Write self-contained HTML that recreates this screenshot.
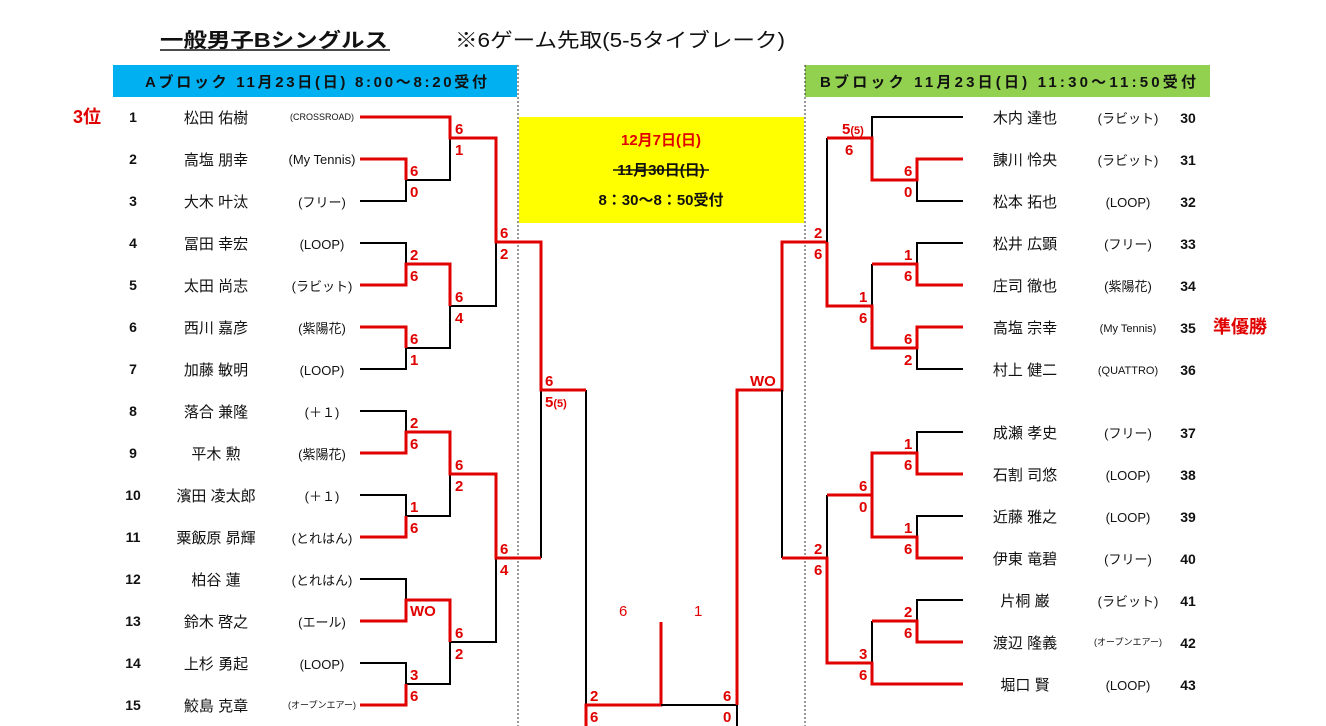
<!DOCTYPE html>
<html><head><meta charset="utf-8"><style>
html,body{margin:0;padding:0;background:#fff;}
svg{display:block;font-family:"Liberation Sans","Noto Sans CJK JP",sans-serif;}
.s{fill:#e00000;font-weight:bold;font-size:15px;}
.n{font-size:15px;fill:#111;}
.c{font-size:13px;fill:#111;}
.num{font-size:14px;font-weight:bold;fill:#111;}
.r{fill:none;stroke:#e00000;stroke-width:3;}
.b{fill:none;stroke:#000;stroke-width:2;}
</style></head><body>
<svg width="1326" height="726" viewBox="0 0 1326 726">
<text x="160" y="47" font-size="20" font-weight="bold" fill="#111" textLength="228" lengthAdjust="spacingAndGlyphs">一般男子Bシングルス</text>
<line x1="160" y1="50" x2="390" y2="50" stroke="#111" stroke-width="1.5"/>
<text x="455" y="47" font-size="20" fill="#111" textLength="330" lengthAdjust="spacingAndGlyphs">※6ゲーム先取(5-5タイブレーク)</text>
<rect x="113" y="65" width="404" height="32" fill="#00b0f0"/>
<text x="145" y="87" font-size="15" font-weight="bold" fill="#111" textLength="342" lengthAdjust="spacing">Aブロック  11月23日(日)   8:00～8:20受付</text>
<rect x="805" y="65" width="405" height="32" fill="#92d050"/>
<text x="820" y="87" font-size="15" font-weight="bold" fill="#111" textLength="376" lengthAdjust="spacing">Bブロック   11月23日(日)   11:30～11:50受付</text>
<line x1="518" y1="65" x2="518" y2="726" stroke="#333" stroke-dasharray="2,2" stroke-width="1"/>
<line x1="805" y1="65" x2="805" y2="726" stroke="#333" stroke-dasharray="2,2" stroke-width="1"/>
<rect x="519" y="117" width="285" height="106" fill="#ffff00"/>
<text x="661" y="145" text-anchor="middle" font-size="15" font-weight="bold" fill="#e00000">12月7日(日)</text>
<text x="661" y="175" text-anchor="middle" font-size="15" font-weight="bold" fill="#111">11月30日(日)</text>
<line x1="613" y1="170" x2="709" y2="170" stroke="#111" stroke-width="1.5"/>
<text x="661" y="205" text-anchor="middle" font-size="15" font-weight="bold" fill="#111">8：30～8：50受付</text>

<text x="73" y="123" font-size="18" font-weight="bold" fill="#e00000">3位</text>
<text x="1213" y="333" font-size="18" font-weight="bold" fill="#e00000">準優勝</text>

<!-- Left players -->
<g text-anchor="middle">
<text class="num" x="133" y="122">1</text><text class="n" x="216" y="123">松田 佑樹</text><text class="c" x="322" y="120" style="font-size:9px">(CROSSROAD)</text>
<text class="num" x="133" y="164">2</text><text class="n" x="216" y="165">高塩 朋幸</text><text class="c" x="322" y="164">(My Tennis)</text>
<text class="num" x="133" y="206">3</text><text class="n" x="216" y="207">大木 叶汰</text><text class="c" x="322" y="207">(フリー)</text>
<text class="num" x="133" y="248">4</text><text class="n" x="216" y="249">冨田 幸宏</text><text class="c" x="322" y="249">(LOOP)</text>
<text class="num" x="133" y="290">5</text><text class="n" x="216" y="291">太田 尚志</text><text class="c" x="322" y="291">(ラビット)</text>
<text class="num" x="133" y="332">6</text><text class="n" x="216" y="333">西川 嘉彦</text><text class="c" x="322" y="333">(紫陽花)</text>
<text class="num" x="133" y="374">7</text><text class="n" x="216" y="375">加藤 敏明</text><text class="c" x="322" y="375">(LOOP)</text>
<text class="num" x="133" y="416">8</text><text class="n" x="216" y="417">落合 兼隆</text><text class="c" x="322" y="417">(＋１)</text>
<text class="num" x="133" y="458">9</text><text class="n" x="216" y="459">平木 勲</text><text class="c" x="322" y="459">(紫陽花)</text>
<text class="num" x="133" y="500">10</text><text class="n" x="216" y="501">濱田 凌太郎</text><text class="c" x="322" y="501">(＋１)</text>
<text class="num" x="133" y="542">11</text><text class="n" x="216" y="543">粟飯原 昴輝</text><text class="c" x="322" y="543">(とれはん)</text>
<text class="num" x="133" y="584">12</text><text class="n" x="216" y="585">柏谷 蓮</text><text class="c" x="322" y="585">(とれはん)</text>
<text class="num" x="133" y="626">13</text><text class="n" x="216" y="627">鈴木 啓之</text><text class="c" x="322" y="627">(エール)</text>
<text class="num" x="133" y="668">14</text><text class="n" x="216" y="669">上杉 勇起</text><text class="c" x="322" y="669">(LOOP)</text>
<text class="num" x="133" y="710">15</text><text class="n" x="216" y="711">鮫島 克章</text><text class="c" x="322" y="708" style="font-size:9px">(オープンエアー)</text>
</g>
<!-- Right players -->
<g text-anchor="middle">
<text class="n" x="1025" y="123">木内 達也</text><text class="c" x="1128" y="123">(ラビット)</text><text class="num" x="1188" y="123">30</text>
<text class="n" x="1025" y="165">諌川 怜央</text><text class="c" x="1128" y="165">(ラビット)</text><text class="num" x="1188" y="165">31</text>
<text class="n" x="1025" y="207">松本 拓也</text><text class="c" x="1128" y="207">(LOOP)</text><text class="num" x="1188" y="207">32</text>
<text class="n" x="1025" y="249">松井 広顕</text><text class="c" x="1128" y="249">(フリー)</text><text class="num" x="1188" y="249">33</text>
<text class="n" x="1025" y="291">庄司 徹也</text><text class="c" x="1128" y="291">(紫陽花)</text><text class="num" x="1188" y="291">34</text>
<text class="n" x="1025" y="333">高塩 宗幸</text><text class="c" x="1128" y="332" style="font-size:11px">(My Tennis)</text><text class="num" x="1188" y="333">35</text>
<text class="n" x="1025" y="375">村上 健二</text><text class="c" x="1128" y="374" style="font-size:11px">(QUATTRO)</text><text class="num" x="1188" y="375">36</text>
<text class="n" x="1025" y="438">成瀬 孝史</text><text class="c" x="1128" y="438">(フリー)</text><text class="num" x="1188" y="438">37</text>
<text class="n" x="1025" y="480">石割 司悠</text><text class="c" x="1128" y="480">(LOOP)</text><text class="num" x="1188" y="480">38</text>
<text class="n" x="1025" y="522">近藤 雅之</text><text class="c" x="1128" y="522">(LOOP)</text><text class="num" x="1188" y="522">39</text>
<text class="n" x="1025" y="564">伊東 竜碧</text><text class="c" x="1128" y="564">(フリー)</text><text class="num" x="1188" y="564">40</text>
<text class="n" x="1025" y="606">片桐 巌</text><text class="c" x="1128" y="606">(ラビット)</text><text class="num" x="1188" y="606">41</text>
<text class="n" x="1025" y="648">渡辺 隆義</text><text class="c" x="1128" y="645" style="font-size:9px">(オープンエアー)</text><text class="num" x="1188" y="648">42</text>
<text class="n" x="1025" y="690">堀口 賢</text><text class="c" x="1128" y="690">(LOOP)</text><text class="num" x="1188" y="690">43</text>
</g>

<!-- Left bracket lines -->
<polyline class="b" points="360,201 406,201 406,180"/>
<polyline class="b" points="406,180 450,180 450,138"/>
<polyline class="b" points="360,243 406,243 406,264"/>
<polyline class="b" points="360,369 406,369 406,348"/>
<polyline class="b" points="406,348 450,348 450,306 496,306 496,242"/>
<polyline class="b" points="360,411 406,411 406,432"/>
<polyline class="b" points="360,495 406,495 406,516 450,516 450,474"/>
<polyline class="b" points="360,579 406,579 406,600"/>
<polyline class="b" points="360,663 406,663 406,684 450,684 450,642 496,642 496,558"/>
<polyline class="b" points="541,558 541,390"/>
<polyline class="b" points="586,390 586,705"/>
<polyline class="r" points="360,117 450,117 450,138 496,138 496,242 541,242 541,390 586,390"/>
<polyline class="r" points="360,159 406,159 406,180"/>
<polyline class="r" points="360,285 406,285 406,264 450,264 450,306"/>
<polyline class="r" points="360,327 406,327 406,348"/>
<polyline class="r" points="360,453 406,453 406,432 450,432 450,474 496,474 496,558 541,558"/>
<polyline class="r" points="360,537 406,537 406,516"/>
<polyline class="r" points="360,621 406,621 406,600 450,600 450,642"/>
<polyline class="r" points="360,705 406,705 406,684"/>
<!-- Final -->
<polyline class="r" points="586,726 586,705 661,705 661,622"/>
<polyline class="b" points="661,705 737,705 737,726"/>
<polyline class="r" points="737,705 737,390 782,390 782,242 827,242"/>

<!-- Right bracket lines -->
<polyline class="b" points="963,117 872,117 872,138"/>
<polyline class="b" points="963,201 917,201 917,180"/>
<polyline class="b" points="827,138 827,242"/>
<polyline class="b" points="963,243 917,243 917,264"/>
<polyline class="b" points="872,264 872,306"/>
<polyline class="b" points="963,369 917,369 917,348"/>
<polyline class="b" points="782,390 782,558"/>
<polyline class="b" points="963,432 917,432 917,453"/>
<polyline class="b" points="872,495 872,537"/>
<polyline class="b" points="963,516 917,516 917,537"/>
<polyline class="b" points="827,495 827,558"/>
<polyline class="b" points="963,600 917,600 917,621"/>
<polyline class="b" points="872,621 872,663"/>
<polyline class="r" points="827,138 872,138 872,180 917,180 917,159 963,159"/>
<polyline class="r" points="827,242 827,306 872,306 872,348 917,348 917,327 963,327"/>
<polyline class="r" points="872,264 917,264 917,285 963,285"/>
<polyline class="r" points="827,495 872,495 872,453 917,453 917,474 963,474"/>
<polyline class="r" points="872,495 872,537 917,537 917,558 963,558"/>
<polyline class="r" points="782,558 827,558 827,663 872,663 872,684 963,684"/>
<polyline class="r" points="872,621 917,621 917,642 963,642"/>

<!-- Left scores -->
<g class="s">
<text x="455" y="134">6</text><text x="455" y="155">1</text>
<text x="410" y="176">6</text><text x="410" y="197">0</text>
<text x="410" y="260">2</text><text x="410" y="281">6</text>
<text x="455" y="302">6</text><text x="455" y="323">4</text>
<text x="410" y="344">6</text><text x="410" y="365">1</text>
<text x="500" y="238">6</text><text x="500" y="259">2</text>
<text x="545" y="386">6</text><text x="545" y="407">5<tspan font-size="11">(5)</tspan></text>
<text x="410" y="428">2</text><text x="410" y="449">6</text>
<text x="455" y="470">6</text><text x="455" y="491">2</text>
<text x="410" y="512">1</text><text x="410" y="533">6</text>
<text x="500" y="554">6</text><text x="500" y="575">4</text>
<text x="410" y="616">WO</text>
<text x="455" y="638">6</text><text x="455" y="659">2</text>
<text x="410" y="680">3</text><text x="410" y="701">6</text>
<text x="590" y="701">2</text><text x="590" y="722">6</text>
<text x="723" y="701">6</text><text x="723" y="722">0</text>
<text x="619" y="616" font-weight="normal">6</text><text x="694" y="616" font-weight="normal">1</text>
<text x="750" y="386">WO</text>
<!-- Right scores -->
<text x="842" y="134">5<tspan font-size="11">(5)</tspan></text><text x="845" y="155">6</text>
<text x="904" y="176">6</text><text x="904" y="197">0</text>
<text x="814" y="238">2</text><text x="814" y="259">6</text>
<text x="904" y="260">1</text><text x="904" y="281">6</text>
<text x="859" y="302">1</text><text x="859" y="323">6</text>
<text x="904" y="344">6</text><text x="904" y="365">2</text>
<text x="904" y="449">1</text><text x="904" y="470">6</text>
<text x="859" y="491">6</text><text x="859" y="512">0</text>
<text x="904" y="533">1</text><text x="904" y="554">6</text>
<text x="814" y="554">2</text><text x="814" y="575">6</text>
<text x="904" y="617">2</text><text x="904" y="638">6</text>
<text x="859" y="659">3</text><text x="859" y="680">6</text>
</g>
</svg>
</body></html>
